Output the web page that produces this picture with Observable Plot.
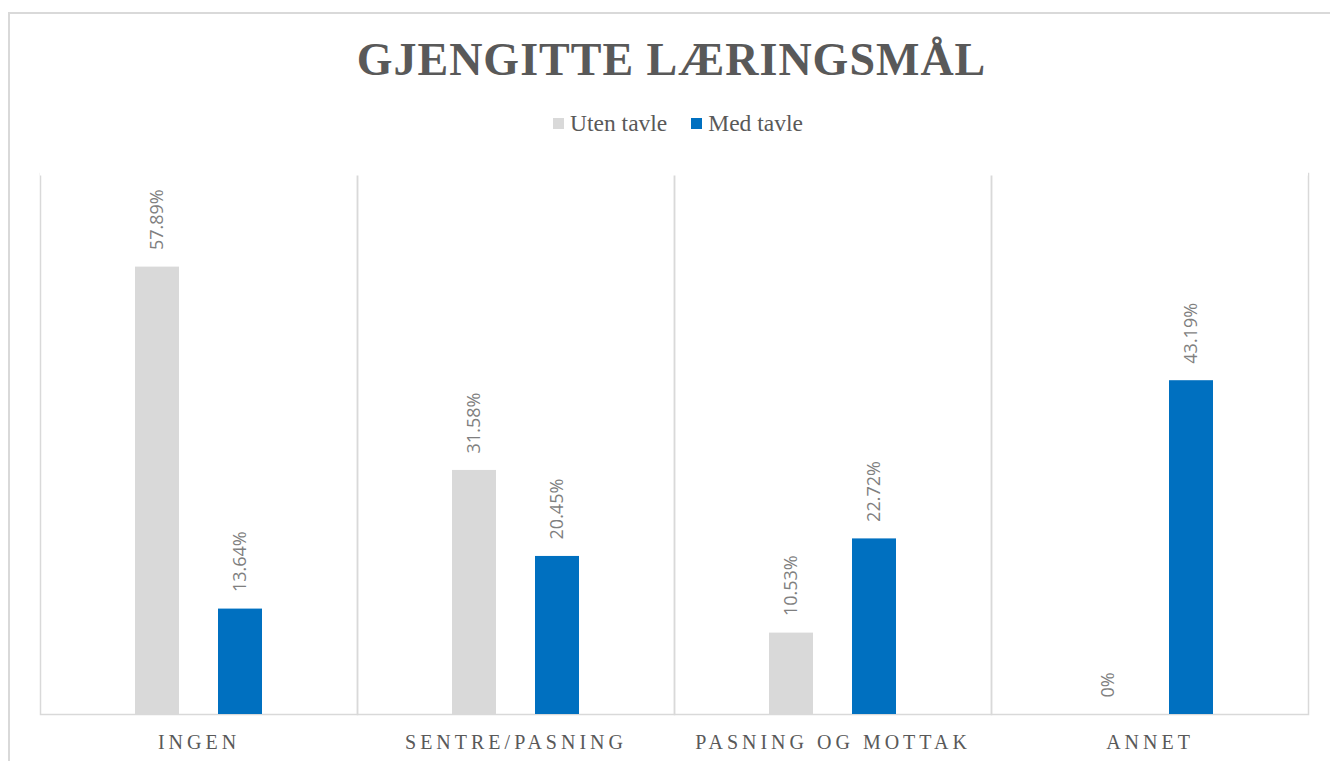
<!DOCTYPE html>
<html><head><meta charset="utf-8">
<script src="https://cdn.jsdelivr.net/npm/d3@7"></script>
<script src="https://cdn.jsdelivr.net/npm/@observablehq/plot@0.6"></script>
<style>
body{margin:0;background:#fff;}
#wrap{position:relative;width:1330px;height:761px;overflow:hidden;background:#fff;}
#border{position:absolute;left:8px;top:12px;width:1400px;height:800px;border:2px solid #d9d9d9;box-sizing:border-box;}
#title{position:absolute;left:0;width:1343px;top:37px;text-align:center;font-family:"Liberation Serif",serif;font-weight:bold;font-size:46px;line-height:46px;color:#595959;letter-spacing:1px;white-space:nowrap;}
#legend{position:absolute;left:0;width:1356px;top:112px;display:flex;justify-content:center;font-family:"Liberation Serif",serif;font-size:23.5px;line-height:23px;color:#595959;white-space:nowrap;}
#legend .item{display:flex;align-items:center;margin:0 12px;}
#legend .sw{display:inline-block;width:11px;height:11px;margin-right:6px;}
#chart{position:absolute;left:0;top:150px;}
#chart g[aria-label="fx-axis tick label"]{letter-spacing:4px;}
</style></head>
<body>
<div id="wrap">
  <div id="border"></div>
  <div id="title"></div>
  <div id="legend"></div>
  <div id="chart"></div>
</div>
<script>
const titleText = "GJENGITTE LÆRINGSMÅL";
const categories = ["INGEN", "SENTRE/PASNING", "PASNING OG MOTTAK", "ANNET"];
const series = ["Uten tavle", "Med tavle"];
const utenTavle = [57.89, 31.58, 10.53, 0];
const medTavle = [13.64, 20.45, 22.72, 43.19];
const seriesColors = ["#d9d9d9", "#0070c0"];

const valuesBySeries = [utenTavle, medTavle];
const data = [];
categories.forEach((c, i) => {
  series.forEach((s, j) => {
    data.push({category: c, series: s, value: valuesBySeries[j][i]});
  });
});
const fmt = v => v === 0 ? "0%" : v.toFixed(2) + "%";

document.getElementById("title").textContent = titleText;
const legend = document.getElementById("legend");
series.forEach((s, j) => {
  const item = document.createElement("div");
  item.className = "item";
  const sw = document.createElement("span");
  sw.className = "sw";
  sw.style.background = seriesColors[j];
  item.appendChild(sw);
  item.appendChild(document.createTextNode(s));
  legend.appendChild(item);
});

const chart = Plot.plot({
  width: 1330,
  height: 611,
  marginLeft: 38,
  marginRight: 21,
  marginTop: 23,
  marginBottom: 47,
  fx: {domain: categories, padding: 0, label: null},
  x: {domain: series, axis: null, paddingInner: 0.47, paddingOuter: 1.14},
  y: {domain: [0, 70], axis: null},
  color: {domain: series, range: seriesColors},
  marks: [
    Plot.frame({stroke: "#d9d9d9", strokeWidth: 1.5}),
    Plot.ruleY([70], {stroke: "white", strokeWidth: 4}),
    Plot.barY(data, {fx: "category", x: "series", y: "value", fill: "series"}),
    Plot.text(data, {fx: "category", x: "series", y: "value", text: d => fmt(d.value),
      rotate: -90, textAnchor: "start", dy: -17, fill: "#7f7f7f",
      fontFamily: "Open Sans", fontSize: 18}),
    Plot.axisFx({anchor: "bottom", tickSize: 0, tickPadding: 20, label: null,
      fontFamily: "Liberation Serif", fontSize: 20, fill: "#595959"})
  ]
});
document.getElementById("chart").appendChild(chart);
</script>
</body></html>
